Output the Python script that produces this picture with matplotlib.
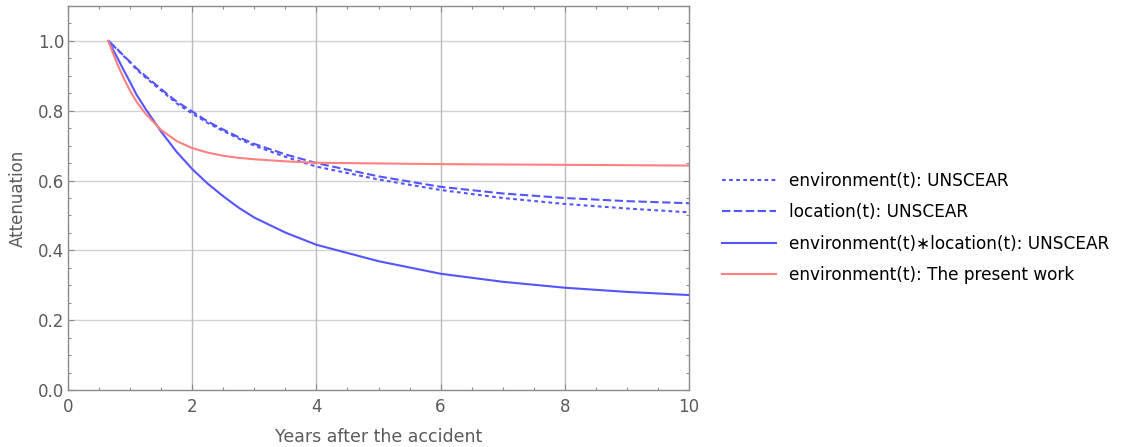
import numpy as np
import matplotlib.pyplot as plt
from matplotlib.ticker import MultipleLocator

plt.rcParams["font.family"] = ["DejaVu Sans"]

# 数据
years = [0.65, 0.7, 0.8, 0.9, 1.0, 1.1, 1.25, 1.5, 1.75, 2.0, 2.25, 2.5, 2.75, 3.0, 3.5, 4.0, 5.0, 6.0, 7.0, 8.0, 9.0, 10.0]
env_unscear = [1.0, 0.991, 0.974, 0.956, 0.938, 0.919, 0.895, 0.858, 0.821, 0.792, 0.765, 0.742, 0.720, 0.700, 0.668, 0.640, 0.603, 0.573, 0.550, 0.533, 0.520, 0.509]
loc_unscear = [1.0, 0.992, 0.975, 0.957, 0.940, 0.922, 0.899, 0.862, 0.826, 0.798, 0.769, 0.746, 0.724, 0.705, 0.675, 0.650, 0.612, 0.582, 0.563, 0.550, 0.541, 0.535]
env_loc_unscear = [1.0, 0.983, 0.950, 0.915, 0.882, 0.847, 0.805, 0.740, 0.682, 0.633, 0.591, 0.555, 0.522, 0.494, 0.451, 0.416, 0.369, 0.333, 0.310, 0.293, 0.281, 0.272]
env_present = [1.0, 0.976, 0.931, 0.892, 0.857, 0.827, 0.791, 0.745, 0.713, 0.693, 0.680, 0.671, 0.665, 0.661, 0.655, 0.651, 0.649, 0.647, 0.646, 0.645, 0.644, 0.643]

labels = [
    "environment(t): UNSCEAR",
    "location(t): UNSCEAR",
    "environment(t)\u2217location(t): UNSCEAR",
    "environment(t): The present work",
]

blue = "#5555ff"
red = "#ff8080"
gray_txt = "#5a5a5a"
frame = "#8a8a8a"

fig = plt.figure(figsize=(11.23, 4.47), dpi=100)
ax = fig.add_axes([68 / 1123, 57 / 447, 621 / 1123, 384 / 447])

lw = 1.5
l1, = ax.plot(years, env_unscear, color=blue, lw=lw, dashes=(1.8, 1.6))
l2, = ax.plot(years, loc_unscear, color=blue, lw=lw, dashes=(4.0, 1.7))
l3, = ax.plot(years, env_loc_unscear, color=blue, lw=lw)
l4, = ax.plot(years, env_present, color=red, lw=lw)

ax.set_xlim(0, 10)
ax.set_ylim(0, 1.1)
ax.xaxis.set_major_locator(MultipleLocator(2))
ax.xaxis.set_minor_locator(MultipleLocator(0.5))
ax.yaxis.set_minor_locator(MultipleLocator(0.05))
ax.set_yticks([0, 0.2, 0.4, 0.6, 0.8, 1.0])
ax.set_yticklabels(["0.0", "0.2", "0.4", "0.6", "0.8", "1.0"])

# 网格线
for y in [0.2, 0.4, 0.6, 0.8, 1.0]:
    ax.axhline(y, color="#d2d2d2", lw=1.0, zorder=0)
for x in [2, 4, 6, 8]:
    ax.axvline(x, color="#bcbcbc", lw=1.0, zorder=0)

ax.tick_params(which="both", direction="in", top=True, right=True, colors=frame,
               labelcolor=gray_txt, labelsize=12)
ax.tick_params(which="major", length=4.5, width=0.8)
ax.tick_params(which="minor", length=2.5, width=0.8)
ax.tick_params(axis="x", pad=6)
ax.tick_params(axis="y", pad=2.5)
for s in ax.spines.values():
    s.set_color(frame)
    s.set_linewidth(1.0)

ax.set_xlabel("Years after the accident", fontsize=12.5, color=gray_txt)
ax.set_ylabel("Attenuation", fontsize=12, color=gray_txt)
ax.xaxis.set_label_coords(0.5, -0.122)
ax.xaxis.label.set_va("center")
ax.yaxis.set_label_coords(-0.0805, 0.5)
ax.yaxis.label.set_va("center")

fig.legend([l1, l2, l3, l4], labels, loc="center left",
           bbox_to_anchor=(722 / 1123, 1 - 228 / 447), frameon=False,
           fontsize=12.2, handlelength=3.2, handletextpad=0.75,
           labelspacing=0.78, borderpad=0, borderaxespad=0)

fig.savefig("out.png", dpi=100)
